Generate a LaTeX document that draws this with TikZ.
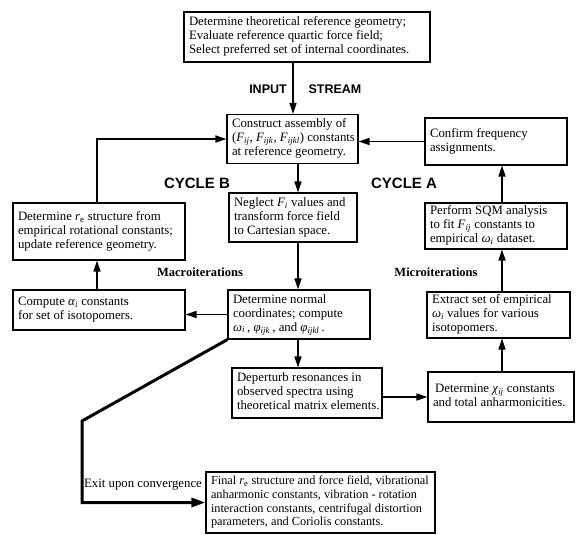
\documentclass[tikz,border=0pt]{standalone}
\usepackage{fontspec}
\setmainfont{Liberation Serif}
\newfontfamily\hsans{Liberation Sans}
\usetikzlibrary{arrows.meta}
\newcommand\sbi[1]{\textsubscript{\textit{#1}}}
\newcommand\bxt[2]{\makebox[#1][l]{\begin{tabular}{@{}l@{}}#2\end{tabular}}}
\begin{document}
\begin{tikzpicture}[x=1pt,y=-1pt,
 box/.style={draw, line width=1.1pt, inner xsep=5pt, inner ysep=2pt, font=\fontsize{12.8}{13.8}\selectfont},
 arr/.style={line width=1.5pt, -{Triangle[length=11pt,width=7pt]}},
 exitline/.style={line width=3pt, -{Triangle[length=14pt,width=9pt]}, line join=miter},
 cyc/.style={font=\hsans\bfseries\fontsize{15}{15}\selectfont},
 strm/.style={font=\hsans\bfseries\fontsize{12.5}{12.5}\selectfont},
 iter/.style={font=\bfseries\fontsize{12.5}{12.5}\selectfont},
 lbl/.style={font=\fontsize{12.8}{13.8}\selectfont},
]
\useasboundingbox (0,0) rectangle (578,535);

\node[box, minimum width=246pt, minimum height=50pt] (top) at (307,37)
 {\bxt{236pt}{Determine theoretical reference geometry;\\ Evaluate reference quartic force field;\\ Select preferred set of internal coordinates.}};
\node[box, minimum width=131pt, minimum height=49pt] (construct) at (292.5,139)
 {\bxt{121pt}{Construct assembly of\\ (\textit{F}\sbi{ij}, \textit{F}\sbi{ijk}, \textit{F}\sbi{ijkl}) constants\\ at reference geometry.}};
\node[box, minimum width=128pt, minimum height=49pt] (neglect) at (293,217.5)
 {\bxt{118pt}{Neglect \textit{F}\sbi{i} values and\\ transform force field\\ to Cartesian space.}};
\node[box, minimum width=142pt, minimum height=49pt] (normal) at (299,314.5)
 {\bxt{132pt}{Determine normal\\ coordinates; compute\\ \textit{ω}\sbi{i}\,, \textit{φ}\sbi{ijk}\,, and \textit{φ}\sbi{ijkl}\,.}};
\node[box, minimum width=150pt, minimum height=50pt] (deperturb) at (307,393)
 {\bxt{140pt}{Deperturb resonances in\\ observed spectra using\\ theoretical matrix elements.}};
\node[box, minimum width=146pt, minimum height=50pt] (chi) at (501,397)
 {\bxt{136pt}{\,Determine \textit{χ}\sbi{ij} constants\\ and total anharmonicities.}};
\node[box, minimum width=143pt, minimum height=46pt] (extract) at (498.5,315)
 {\bxt{133pt}{Extract set of empirical\\ \textit{ω}\sbi{i} values for various\\ isotopomers.}};
\node[box, minimum width=142pt, minimum height=46pt] (sqm) at (496,226)
 {\bxt{132pt}{Perform SQM analysis\\ to fit \textit{F}\sbi{ij} constants to\\ empirical \textit{ω}\sbi{i} dataset.}};
\node[box, minimum width=142pt, minimum height=47pt] (confirm) at (496,141.5)
 {\bxt{132pt}{Confirm frequency\\ assignments.}};
\node[box, minimum width=172pt, minimum height=57pt] (re) at (99,231.5)
 {\bxt{162pt}{Determine \textit{r}\textsubscript{e} structure from\\ empirical rotational constants;\\ update reference geometry.}};
\node[box, minimum width=172pt, minimum height=40pt] (alpha) at (99,310)
 {\bxt{162pt}{Compute \textit{α}\sbi{i} constants\\ for set of isotopomers.}};
\node[box, minimum width=229pt, minimum height=61pt, font=\fontsize{12.3}{13.8}\selectfont] (final) at (320.5,502.5)
 {\bxt{219pt}{Final \textit{r}\textsubscript{e} structure and force field, vibrational\\ anharmonic constants, vibration - rotation\\ interaction constants, centrifugal distortion\\ parameters, and Coriolis constants.}};

\node[strm] (input) at (268,89) {INPUT};
\node[strm] (stream) at (335,89) {STREAM};
\node[cyc] (cycb) at (197,183) {CYCLE B};
\node[cyc] (cyca) at (404,183) {CYCLE A};
\node[iter] (macro) at (200,272) {Macroiterations};
\node[iter] (micro) at (436,272) {Microiterations};
\node[lbl] (exitl) at (143,485) {Exit upon convergence};

\draw[arr] (top.south -| 293,0) -- (construct.north -| 293,0);
\draw[arr] (construct.south -| 298,0) -- (neglect.north -| 298,0);
\draw[arr] (neglect.south -| 298,0) -- (normal.north -| 298,0);
\draw[arr] (normal.south -| 298,0) -- (deperturb.north -| 298,0);
\draw[arr] (deperturb.east |- chi.west) -- (chi.west);
\draw[arr] (chi.north -| 502,0) -- (extract.south -| 502,0);
\draw[arr] (extract.north -| 502,0) -- (sqm.south -| 502,0);
\draw[arr] (sqm.north -| 502,0) -- (confirm.south -| 502,0);
\draw[arr] (confirm.west) -- (construct.east |- confirm.west);
\draw[arr] (re.north -| 97,0) |- (construct.west);
\draw[arr] (alpha.north -| 97,0) -- (re.south -| 97,0);
\draw[arr] (normal.west) -- (alpha.east |- normal.west);
\coordinate (e1) at (82,421);
\draw[exitline] (normal.south west) -- (e1) |- (final.west);
\end{tikzpicture}
\end{document}
